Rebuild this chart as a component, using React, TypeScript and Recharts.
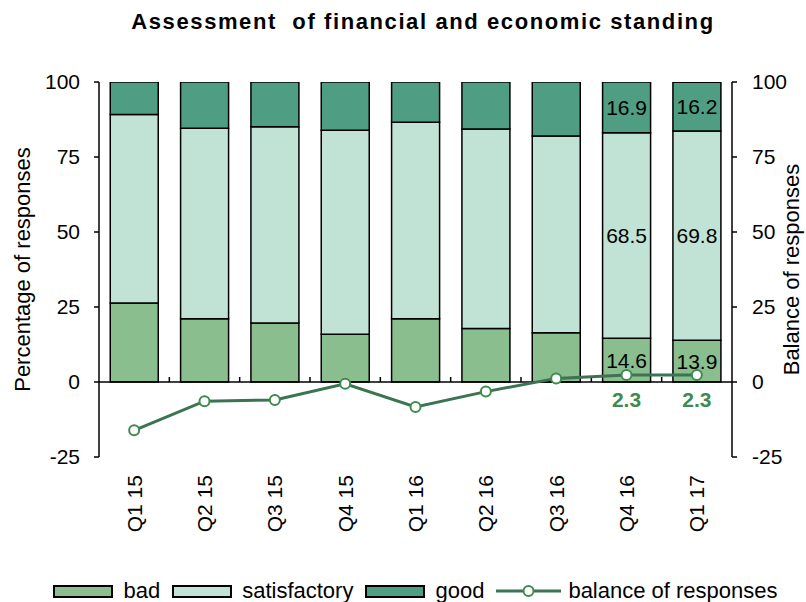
import React from 'react'
import { ComposedChart, Bar, Line, XAxis, YAxis, ReferenceLine, LabelList } from 'recharts'

const quarters = ['Q1  15', 'Q2 15', 'Q3 15', 'Q4 15', 'Q1 16', 'Q2 16', 'Q3 16', 'Q4 16', 'Q1 17']
const bad = [26.3, 21.1, 19.7, 15.9, 21.1, 17.8, 16.4, 14.6, 13.9]
const satisfactory = [62.9, 63.5, 65.4, 68.0, 65.5, 66.5, 65.6, 68.5, 69.8]
const good = [10.8, 15.4, 14.9, 16.1, 13.4, 15.7, 18.0, 16.9, 16.2]
const balance = [-16.1, -6.4, -6.0, -0.6, -8.3, -3.2, 1.2, 2.3, 2.3]
const labelledQuarters = ['Q4 16', 'Q1 17']
const yTicks = [-25, 0, 25, 50, 75, 100]

const FONT = '"Liberation Sans", Arial, sans-serif'
const C_BAD = '#8bbe8f'
const C_SAT = '#c1e3d6'
const C_GOOD = '#4f9d82'
const C_LINE = '#3a7452'
const C_DOT = '#3f8a4f'

const data = quarters.map((q, i) => {
  const lab = labelledQuarters.includes(q)
  return {
    q,
    bad: bad[i],
    satisfactory: satisfactory[i],
    good: good[i],
    balance: balance[i],
    badLabel: lab ? bad[i] : null,
    satLabel: lab ? satisfactory[i] : null,
    goodLabel: lab ? good[i] : null,
    balanceLabel: lab ? balance[i] : null,
  }
})

const legendItems = [
  { name: 'bad', color: C_BAD, kind: 'bar' },
  { name: 'satisfactory', color: C_SAT, kind: 'bar' },
  { name: 'good', color: C_GOOD, kind: 'bar' },
  { name: 'balance of responses', color: C_LINE, kind: 'line' },
]

function QuarterTick(props: any) {
  const { x, y, payload } = props
  return (
    <text
      x={x}
      y={y}
      transform={`rotate(-90, ${x}, ${y})`}
      textAnchor="end"
      dominantBaseline="central"
      fontSize={21}
      fontFamily={FONT}
      fill="#000"
    >
      {payload.value}
    </text>
  )
}

// zero line with small ticks at the category boundaries
function ZeroLine(props: any) {
  const { x1, y1, x2 } = props
  const step = (x2 - x1) / quarters.length
  const ticks = quarters.slice(1).map((_, i) => x1 + step * (i + 1))
  return (
    <g>
      <line x1={x1} y1={y1} x2={x2} y2={y1} stroke="#000" strokeWidth={1.5} />
      {ticks.map((tx) => (
        <line key={tx} x1={tx} y1={y1} x2={tx} y2={y1 - 5} stroke="#000" strokeWidth={1.5} />
      ))}
    </g>
  )
}

export default function App() {
  const tickStyle = { fontSize: 21, fontFamily: FONT, fill: '#000' }
  return (
    <div style={{ position: 'absolute', left: 0, top: 0, width: 806, height: 602, background: '#fff', fontFamily: FONT, overflow: 'hidden' }}>
      <div style={{ position: 'absolute', left: 0, top: 9, width: 846, textAlign: 'center', fontSize: 22, fontWeight: 700, letterSpacing: 1.6, color: '#000', whiteSpace: 'nowrap' }}>
        Assessment&nbsp; of financial and economic standing
      </div>
      <ComposedChart
        width={806}
        height={602}
        data={data}
        margin={{ top: 82, right: 0, bottom: 0, left: 0 }}
        barCategoryGap="16%"
      >
        <XAxis
          dataKey="q"
          axisLine={false}
          tickLine={false}
          tickSize={0}
          tickMargin={18}
          interval={0}
          height={145}
          tick={<QuarterTick />}
        />
        <YAxis
          yAxisId="left"
          orientation="left"
          width={99}
          domain={[-25, 100]}
          ticks={yTicks}
          allowDataOverflow
          stroke="#000"
          axisLine={{ stroke: '#000', strokeWidth: 1.5 }}
          tickLine={{ stroke: '#000', strokeWidth: 1.5 }}
          tickSize={5}
          tickMargin={14}
          tick={tickStyle}
          label={{ value: 'Percentage of responses', angle: -90, position: 'insideLeft', dx: 17, style: { fontSize: 22, fontFamily: FONT, fill: '#000', textAnchor: 'middle' } }}
        />
        <YAxis
          yAxisId="right"
          orientation="right"
          width={74}
          domain={[-25, 100]}
          ticks={yTicks}
          allowDataOverflow
          stroke="#000"
          axisLine={{ stroke: '#000', strokeWidth: 1.5 }}
          tickLine={{ stroke: '#000', strokeWidth: 1.5 }}
          tickSize={5}
          tickMargin={15}
          tick={tickStyle}
          label={{ value: 'Balance of responses', angle: -90, position: 'insideRight', dx: -10, style: { fontSize: 22, fontFamily: FONT, fill: '#000', textAnchor: 'middle' } }}
        />
        <Bar yAxisId="left" dataKey="bad" stackId="a" fill={C_BAD} stroke="#000" strokeWidth={1.5} isAnimationActive={false}>
          <LabelList dataKey="badLabel" position="center" style={{ fontSize: 21, fontFamily: FONT, fill: '#000' }} />
        </Bar>
        <Bar yAxisId="left" dataKey="satisfactory" stackId="a" fill={C_SAT} stroke="#000" strokeWidth={1.5} isAnimationActive={false}>
          <LabelList dataKey="satLabel" position="center" style={{ fontSize: 21, fontFamily: FONT, fill: '#000' }} />
        </Bar>
        <Bar yAxisId="left" dataKey="good" stackId="a" fill={C_GOOD} stroke="#000" strokeWidth={1.5} isAnimationActive={false}>
          <LabelList dataKey="goodLabel" position="center" style={{ fontSize: 21, fontFamily: FONT, fill: '#000' }} />
        </Bar>
        <ReferenceLine yAxisId="left" y={0} shape={<ZeroLine />} />
        <Line
          yAxisId="right"
          dataKey="balance"
          stroke={C_LINE}
          strokeWidth={3}
          dot={{ r: 5, fill: '#fff', stroke: C_DOT, strokeWidth: 2 }}
          isAnimationActive={false}
        >
          <LabelList dataKey="balanceLabel" position="bottom" offset={17} style={{ fontSize: 21, fontWeight: 700, fontFamily: FONT, fill: C_DOT }} />
        </Line>
      </ComposedChart>
      <div style={{ position: 'absolute', left: 0, top: 579, width: 831, display: 'flex', justifyContent: 'center', alignItems: 'center', fontSize: 22, color: '#000', lineHeight: '24px', whiteSpace: 'nowrap' }}>
        {legendItems.map((it, i) => (
          <div key={it.name} style={{ display: 'flex', alignItems: 'center', marginRight: i < legendItems.length - 1 ? 12 : 0, flexShrink: 0 }}>
            {it.kind === 'bar' ? (
              <div style={{ width: 56, height: 9, background: it.color, border: '2px solid #000', marginRight: 10 }} />
            ) : (
              <svg width={65} height={14} style={{ marginRight: 7 }}>
                <line x1={0} y1={7} x2={65} y2={7} stroke={it.color} strokeWidth={3} />
                <circle cx={32.5} cy={7} r={5} fill="#fff" stroke={C_DOT} strokeWidth={2} />
              </svg>
            )}
            <span>{it.name}</span>
          </div>
        ))}
      </div>
    </div>
  )
}
